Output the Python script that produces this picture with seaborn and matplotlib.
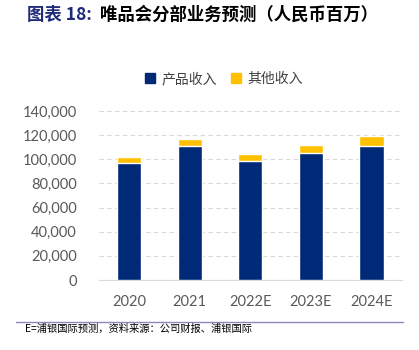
# 唯品会分部业务预测 stacked bar chart
import pandas as pd
import matplotlib.pyplot as plt
import seaborn as sns
from matplotlib.patches import Patch
from matplotlib.ticker import FuncFormatter

years = ["2020", "2021", "2022E", "2023E", "2024E"]
product_rev = [97100, 111000, 98300, 105400, 111000]   # 产品收入
other_rev = [4500, 5800, 6300, 6600, 8000]             # 其他收入

df = pd.DataFrame({"year": years, "product": product_rev, "other": other_rev})
df["total"] = df["product"] + df["other"]

sns.set_style("white")
plt.rcParams['font.family'] = ['Noto Sans CJK SC', 'DejaVu Sans']

blue = "#002A78"
yellow = "#FFC000"

fig = plt.figure(figsize=(4.19, 3.5), dpi=100)
ax = fig.add_axes([0.236, 0.2, 0.723, 0.483])

# totals first (yellow), products drawn over them (blue)
sns.barplot(data=df, x="year", y="total", color=yellow, width=0.4,
            saturation=1, ax=ax, zorder=3)
sns.barplot(data=df, x="year", y="product", color=blue, width=0.4,
            saturation=1, ax=ax, zorder=3)

ax.set_ylim(0, 140000)
ax.set_xlim(-0.5, 4.5)
ax.set_yticks(range(0, 140001, 20000))
ax.yaxis.set_major_formatter(FuncFormatter(lambda v, p: f"{int(v):,}"))
ax.set_xlabel("")
ax.set_ylabel("")
ax.grid(axis="y", color="#D9D9D9", linestyle=(0, (4, 3)), linewidth=0.8, zorder=0)
for s in ["top", "right", "left"]:
    ax.spines[s].set_visible(False)
ax.spines["bottom"].set_color("#D9D9D9")
ax.tick_params(axis="both", length=0, labelsize=10.5, labelcolor="#595959", pad=11)
ax.tick_params(axis="y", pad=16)
for lab in ax.get_xticklabels() + ax.get_yticklabels():
    lab.set_family(["Lato", "DejaVu Sans"])

handles = [Patch(color=blue, label="产品收入"), Patch(color=yellow, label="其他收入")]
fig.legend(handles=handles, loc="center", bbox_to_anchor=(0.535, 0.774), ncol=2,
           frameon=False, fontsize=10, handlelength=0.7, handleheight=0.7,
           columnspacing=1.0, handletextpad=0.5, labelcolor="#404040")

# title
fig.text(0.064, 0.958, "图表 18:", fontsize=12.5, fontweight="bold", color="#1F2A7A",
         va="center", ha="left")
fig.text(0.239, 0.958, "唯品会分部业务预测（人民币百万）", fontsize=12.5,
         fontweight="bold", color="black", va="center", ha="left")

# footer
fig.add_artist(plt.Line2D([0.038, 0.962], [0.081, 0.081], transform=fig.transFigure,
                          color="#8F86C0", linewidth=1.0))
fig.text(0.06, 0.061, "E=浦银国际预测，资料来源：公司财报、浦银国际", fontsize=7.4,
         color="black", va="center", ha="left")

plt.savefig("out.png", dpi=100)
